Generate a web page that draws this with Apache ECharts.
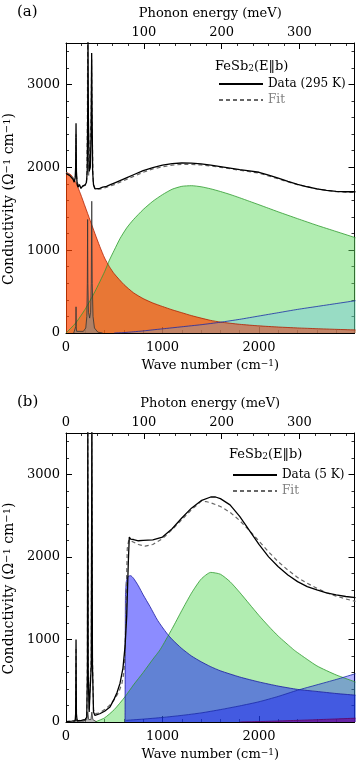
<!DOCTYPE html>
<html><head><meta charset="utf-8">
<script src="https://cdn.jsdelivr.net/npm/echarts@6/dist/echarts.min.js"></script>
<style>html,body{margin:0;padding:0;background:#fff}#c{width:360px;height:767px}</style>
</head><body><div id="c"></div><script>
// ---------- data (wave number cm^-1, conductivity Ohm^-1 cm^-1) ----------
const waveTicks = [0, 1000, 2000];
const energyTicks = [0, 100, 200, 300];
const condTicks = [0, 1000, 2000, 3000];

// Panel (a) 295 K
const dataA = [[0,1925],[20,1915],[40,1900],[60,1880],[75,1850],[85,1820],[95,1870],[100,2000],[104,2530],[108,1950],[115,1800],[125,1760],[140,1790],[155,1745],[170,1770],[185,1750],[200,1790],[212,1820],[220,1950],[225,2700],[228,3600],[232,2600],[240,1950],[252,2000],[260,2400],[266,3380],[270,2700],[276,1950],[285,1790],[300,1740],[320,1730],[350,1745],[380,1760],[420,1770],[460,1790],[500,1810],[560,1840],[620,1870],[700,1910],[800,1960],[900,1995],[1000,2025],[1100,2043],[1200,2052],[1300,2050],[1400,2040],[1500,2025],[1600,2008],[1700,1990],[1800,1972],[1900,1957],[2000,1940],[2100,1905],[2200,1870],[2300,1830],[2400,1795],[2500,1765],[2600,1740],[2700,1722],[2800,1710],[2900,1705],[3000,1705]];
const fitA = [[0,1935],[50,1900],[90,1850],[100,1900],[104,2400],[108,1900],[120,1800],[160,1770],[200,1780],[215,1850],[222,2600],[225,3700],[228,2800],[235,1900],[250,1900],[260,2600],[266,3300],[272,2400],[282,1800],[300,1740],[350,1735],[400,1750],[500,1790],[600,1840],[700,1890],[800,1940],[900,1980],[1000,2005],[1100,2025],[1200,2035],[1300,2035],[1400,2028],[1500,2015],[1600,2000],[1800,1965],[2000,1930],[2200,1860],[2400,1790],[2600,1740],[2800,1705],[3000,1695]];
const drudeA = [[0,1940],[50,1910],[100,1820],[150,1680],[200,1520],[250,1360],[300,1200],[350,1045],[400,905],[450,800],[500,715],[600,585],[700,485],[800,415],[900,362],[1000,320],[1100,280],[1200,245],[1300,210],[1400,180],[1500,152],[1600,132],[1800,105],[2000,86],[2200,72],[2400,61],[2600,52],[2800,44],[3000,37]];
const lorentzA = [[0,0],[100,120],[200,290],[300,500],[400,740],[450,880],[500,1000],[560,1140],[630,1270],[700,1370],[800,1490],[900,1590],[1000,1670],[1100,1735],[1200,1770],[1300,1778],[1400,1765],[1500,1740],[1600,1708],[1700,1672],[1800,1632],[1900,1590],[2000,1548],[2100,1505],[2200,1462],[2400,1380],[2600,1300],[2800,1225],[3000,1150]];
const interA = [[500,0],[600,5],[700,15],[800,25],[900,38],[1000,50],[1200,75],[1400,100],[1600,130],[1800,165],[2000,205],[2200,245],[2400,285],[2600,320],[2800,355],[3000,390]];
const phononA = [[80,0],[98,20],[102,80],[104,316],[106,80],[110,20],[130,5],[180,20],[205,60],[216,200],[221,600],[224,1370],[227,600],[233,250],[245,180],[255,250],[262,600],[267,1590],[272,600],[280,200],[295,60],[330,10],[380,0]];

// Panel (b) 5 K
const dataB = [[0,5],[60,10],[95,15],[100,100],[104,1000],[108,100],[115,15],[160,20],[200,30],[215,60],[222,600],[226,3600],[230,600],[240,120],[255,140],[262,700],[268,3600],[274,700],[285,120],[300,80],[350,100],[400,130],[456,183],[500,280],[530,360],[560,470],[590,650],[612,916],[629,1280],[646,1940],[656,2240],[670,2215],[700,2210],[750,2195],[800,2200],[900,2205],[1000,2240],[1100,2340],[1200,2470],[1300,2590],[1400,2680],[1500,2725],[1550,2725],[1600,2705],[1700,2630],[1800,2490],[1900,2320],[2000,2150],[2100,2000],[2200,1880],[2300,1780],[2400,1700],[2500,1640],[2600,1600],[2700,1565],[2800,1540],[2900,1520],[3000,1505]];
const fitB = [[0,5],[95,10],[100,80],[104,900],[108,80],[120,15],[200,30],[216,100],[222,800],[226,3700],[230,800],[240,150],[256,150],[262,800],[268,3700],[274,800],[285,150],[300,100],[350,110],[400,150],[450,200],[500,270],[550,370],[580,470],[600,600],[612,800],[625,1600],[635,2100],[650,2200],[680,2190],[750,2150],[820,2130],[900,2150],[1000,2220],[1100,2330],[1200,2450],[1300,2570],[1400,2672],[1450,2670],[1500,2655],[1600,2610],[1700,2540],[1800,2440],[1900,2320],[2000,2190],[2100,2060],[2200,1940],[2300,1840],[2400,1750],[2500,1680],[2600,1620],[2700,1565],[2800,1525],[2900,1490],[3000,1460]];
const lorentzB = [[300,0],[400,50],[500,150],[611,305],[700,450],[800,600],[900,760],[975,875],[1100,1130],[1200,1350],[1300,1560],[1400,1730],[1500,1812],[1600,1790],[1700,1700],[1800,1570],[1900,1430],[2000,1290],[2100,1160],[2200,1040],[2360,875],[2400,840],[2600,680],[2800,570],[3000,485]];
const midIrB = [[612,0],[616,1500],[625,1700],[645,1765],[670,1772],[700,1740],[750,1650],[800,1540],[870,1400],[950,1230],[1043,1077],[1100,1000],[1200,890],[1300,800],[1400,730],[1500,670],[1600,620],[1800,545],[2000,485],[2200,435],[2400,395],[2600,370],[2800,345],[3000,325]];
const interB = [[620,20],[800,35],[1000,55],[1200,80],[1400,110],[1600,150],[1800,195],[2000,245],[2200,310],[2400,385],[2600,450],[2800,515],[3000,585]];
const smallB = [[1800,0],[2000,5],[2200,12],[2400,20],[2600,28],[2800,37],[3000,46]];
const phononB = [[80,0],[98,10],[104,40],[110,10],[180,10],[215,30],[226,120],[235,30],[258,30],[268,120],[278,30],[320,0]];

// ---------- styling ----------
const FONT = 'DejaVu Serif';
const CM_PER_MEV = 8.0655;
const XMAX = 2990;
const YMAX = 3500;

const lab = {fontFamily: FONT, fontSize: 13, color: '#000'};
function nameStyle(size, extra) {
  return Object.assign({fontFamily: FONT, fontSize: size, color: '#000',
    rich: {sup: {fontFamily: FONT, fontSize: Math.round(size * 0.68), color: '#000', verticalAlign: 'top'}}}, extra || {});
}

function axesFor(g, showZeroTop, topName) {
  const common = {
    axisLine: {show: true, onZero: false, lineStyle: {color: '#000', width: 1}},
    axisTick: {show: true, inside: true, length: 6, lineStyle: {color: '#000', width: 1}},
    minorTick: {show: true, splitNumber: 5, length: 3, lineStyle: {color: '#000', width: 0.8}},
    splitLine: {show: false}
  };
  const xb = Object.assign({}, common, {
    type: 'value', gridIndex: g, position: 'bottom', min: 0, max: XMAX, interval: 1000,
    axisLabel: Object.assign({margin: 8, formatter: v => waveTicks.includes(v) ? String(v) : ''}, lab),
    name: 'Wave number (cm{sup|−1})', nameLocation: 'middle', nameGap: 26, nameTextStyle: nameStyle(13)
  });
  const xt = Object.assign({}, common, {
    type: 'value', gridIndex: g, position: 'top', min: 0, max: XMAX / CM_PER_MEV, interval: 100,
    axisLabel: Object.assign({margin: 4, formatter: v => (energyTicks.includes(v) && (showZeroTop || v > 0)) ? String(v) : ''}, lab),
    name: topName, nameLocation: 'middle', nameGap: 23, nameTextStyle: nameStyle(13)
  });
  const yl = Object.assign({}, common, {
    type: 'value', gridIndex: g, position: 'left', min: 0, max: YMAX, interval: 1000,
    axisLabel: Object.assign({margin: 6, formatter: v => condTicks.includes(v) ? String(v) : ''}, lab),
    name: 'Conductivity (Ω{sup|−1} cm{sup|−1})', nameLocation: 'middle', nameGap: 46, nameRotate: 90,
    nameTextStyle: nameStyle(14, {padding: [0, 22, 0, 0]})
  });
  const yr = Object.assign({}, common, {
    type: 'value', gridIndex: g, position: 'right', min: 0, max: YMAX, interval: 1000,
    axisLabel: {show: false}
  });
  return {x: [xb, xt], y: [yl, yr]};
}

function line(name, data, xi, yi, color, width, extra) {
  return Object.assign({
    type: 'line', name: name, data: data, xAxisIndex: xi, yAxisIndex: yi,
    showSymbol: false, symbol: 'none', smooth: false, animation: false,
    lineStyle: {color: color, width: width}, itemStyle: {color: color}
  }, extra || {});
}
function area(data, xi, yi, edge, fill, opacity) {
  return line('', data, xi, yi, edge, 0.8, {smooth: 0.2, areaStyle: {color: fill, opacity: opacity}, silent: true});
}

const A = axesFor(0, false, 'Phonon energy (meV)');
const B = axesFor(1, true, 'Photon energy (meV)');

const series = [
  // panel a
  area(lorentzA, 0, 0, '#2f9a2f', 'rgb(100,220,100)', 0.5),
  area(drudeA, 0, 0, '#b02000', 'rgb(255,69,0)', 0.7),
  area(interA, 0, 0, '#1a2aa8', 'rgb(80,170,255)', 0.25),
  line('', phononA, 0, 0, '#333', 0.8, {areaStyle: {color: '#888', opacity: 0.6}}),
  line('Fit_a', fitA, 0, 0, '#666', 1.2, {lineStyle: {color: '#666', width: 1.2, type: [4, 3]}}),
  line('Data (295 K)', dataA, 0, 0, '#000', 1.3),
  // panel b
  area(lorentzB, 2, 2, '#2f9a2f', 'rgb(100,220,100)', 0.5),
  area(midIrB, 2, 2, '#1a1aa0', 'rgb(0,0,255)', 0.45),
  area(interB, 2, 2, '#1a2aa8', 'rgb(0,0,255)', 0.3),
  area(smallB, 2, 2, '#600060', 'rgb(128,0,128)', 0.6),
  line('', phononB, 2, 2, '#333', 0.8, {areaStyle: {color: '#888', opacity: 0.6}}),
  line('Fit_b', fitB, 2, 2, '#666', 1.2, {lineStyle: {color: '#666', width: 1.2, type: [4, 3]}}),
  line('Data (5 K)', dataB, 2, 2, '#000', 1.3)
];

const legendText = {fontFamily: FONT, fontSize: 12, color: '#000'};
function legendFor(items, left, top) {
  return {data: items, orient: 'vertical', left: left, top: top, padding: 0,
    itemWidth: 44, itemHeight: 2, itemGap: 4, selectedMode: false, textStyle: legendText,
    itemStyle: {opacity: 0},
    formatter: n => n.startsWith('Fit') ? 'Fit' : n};
}
const titleStyle = {fontFamily: FONT, fontSize: 13, fill: '#000',
  rich: {s: {fontFamily: FONT, fontSize: 9, verticalAlign: 'bottom'}}};

const option = {
  animation: false,
  backgroundColor: '#fff',
  grid: [
    {left: 66, top: 43, width: 288.5, height: 290, outerBoundsMode: 'none'},
    {left: 66, top: 433, width: 288.5, height: 289, outerBoundsMode: 'none'}
  ],
  xAxis: [A.x[0], A.x[1], B.x[0], B.x[1]],
  yAxis: [A.y[0], A.y[1], B.y[0], B.y[1]],
  legend: [
    legendFor(['Data (295 K)', {name: 'Fit_a', textStyle: {color: '#808080'}}], 218, 78),
    legendFor(['Data (5 K)', {name: 'Fit_b', textStyle: {color: '#808080'}}], 232, 469)
  ],
  graphic: [
    {type: 'text', left: 17, top: 5, style: {text: '(a)', font: '15px "DejaVu Serif"', fill: '#000'}},
    {type: 'text', left: 17, top: 395, style: {text: '(b)', font: '15px "DejaVu Serif"', fill: '#000'}},
    {type: 'text', left: 215, top: 60, style: Object.assign({text: 'FeSb{s|2}(E‖b)'}, titleStyle)},
    {type: 'text', left: 229, top: 448, style: Object.assign({text: 'FeSb{s|2}(E‖b)'}, titleStyle)}
  ],
  series: series
};
const chart = echarts.init(document.getElementById('c'), null, {renderer: 'canvas'});
chart.setOption(option);
</script></body></html>
